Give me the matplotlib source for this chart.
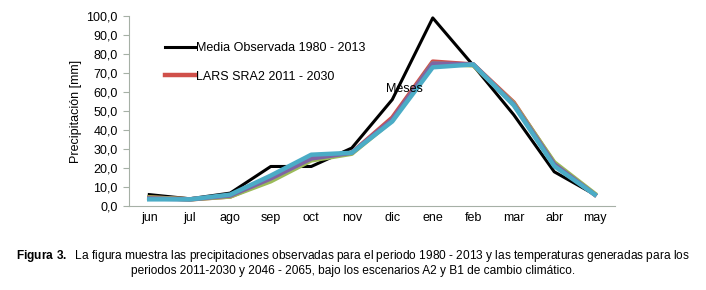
import matplotlib.pyplot as plt
import numpy as np

plt.rcParams['font.family'] = ['Liberation Sans', 'DejaVu Sans']
plt.rcParams['mathtext.fontset'] = 'custom'
plt.rcParams['mathtext.bf'] = 'Liberation Sans:bold'
plt.rcParams['mathtext.rm'] = 'Liberation Sans'

meses = ['jun', 'jul', 'ago', 'sep', 'oct', 'nov', 'dic', 'ene', 'feb', 'mar', 'abr', 'may']

observada = [6.0, 3.8, 6.8, 20.8, 20.8, 30.5, 56.0, 99.0, 74.0, 48.0, 18.0, 6.0]
lars_a2_2030 = [4.5, 3.5, 5.0, 14.0, 25.5, 28.0, 46.5, 76.0, 74.5, 54.5, 22.5, 6.0]
lars_b1_2030 = [4.5, 3.5, 5.0, 13.0, 24.0, 27.5, 45.0, 75.0, 74.0, 54.0, 23.0, 6.5]
lars_a2_2065 = [4.0, 3.5, 5.5, 14.5, 25.0, 28.0, 45.5, 75.0, 74.5, 53.5, 22.0, 6.0]
lars_b1_2065 = [3.5, 3.5, 6.0, 16.0, 27.0, 28.0, 44.5, 73.0, 74.5, 53.0, 21.0, 6.0]

x = np.arange(len(meses))

fig = plt.figure(figsize=(7.06, 2.90), dpi=100)
ax = fig.add_axes([129 / 706, 84 / 290, 486 / 706, 190 / 290])

ax.plot(x, observada, color='black', lw=2.2, label='Media Observada 1980 - 2013')
ax.plot(x, lars_a2_2030, color='#d0504a', lw=3.2, label='LARS SRA2 2011 - 2030')
ax.plot(x, lars_b1_2030, color='#9bbb59', lw=3.2)
ax.plot(x, lars_a2_2065, color='#8064a2', lw=3.2)
ax.plot(x, lars_b1_2065, color='#4bacc6', lw=3.2)

ax.set_xlim(-0.5, len(meses) - 0.5)
ax.set_ylim(0, 100)
ax.set_yticks(np.arange(0, 101, 10))
ax.set_yticklabels([f'{v:.1f}'.replace('.', ',') for v in np.arange(0, 101, 10)])
ax.set_xticks(x)
ax.set_xticklabels(meses)
ax.tick_params(labelsize=9, length=0, pad=4)
ax.tick_params(axis='y', length=4, direction='out', color='#a6b0a6')

for s in ['top', 'right']:
    ax.spines[s].set_visible(False)
for s in ['left', 'bottom']:
    ax.spines[s].set_color('#a6b0a6')

ax.set_ylabel('Precipitación [mm]', fontsize=9, labelpad=3)
ax.text(6.3, 61.5, 'Meses', fontsize=9, ha='center', va='center')

ax.legend(loc='upper left', bbox_to_anchor=(0.05, 0.92), frameon=False,
          fontsize=9, handlelength=2.4, handletextpad=0.15, labelspacing=1.3)

fig.text(0.5, 0.117, r'$\bf{Figura\ 3.}$  La figura muestra las precipitaciones observadas para el periodo 1980 - 2013 y las temperaturas generadas para los',
         ha='center', va='center', fontsize=8.6)
fig.text(0.5, 0.066, 'periodos 2011-2030 y 2046 - 2065, bajo los escenarios A2 y B1 de cambio climático.',
         ha='center', va='center', fontsize=8.6)

fig.savefig('out.png', dpi=100, facecolor='white')
